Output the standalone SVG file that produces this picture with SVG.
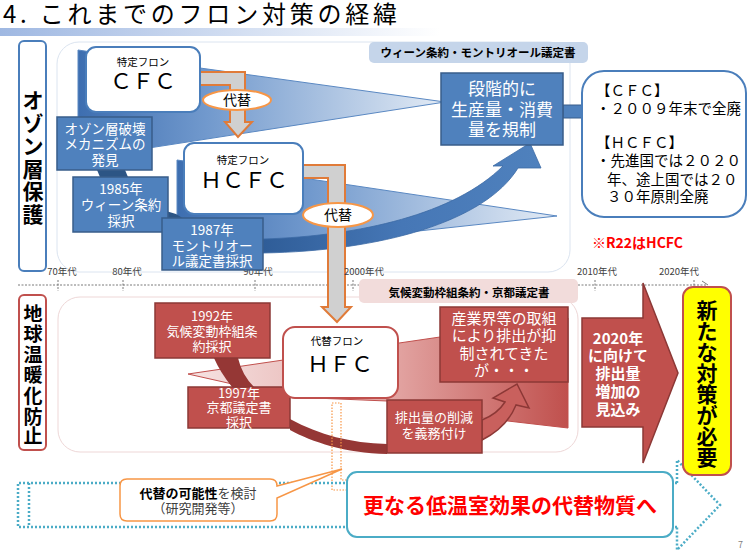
<svg xmlns="http://www.w3.org/2000/svg" width="753" height="557" viewBox="0 0 753 557">
<defs>
<style>
text{font-family:"Noto Sans CJK JP","Liberation Sans",sans-serif;}
.bbox{fill:#4f81bd;stroke:#385d8a;stroke-width:1.5;}
.rbox{fill:#c0504d;stroke:#8c3836;stroke-width:1.5;}
.wt{fill:#ffffff;text-anchor:middle;}
.bk{fill:#000000;text-anchor:middle;}
.tl{font-size:9.5px;fill:#404040;text-anchor:middle;}
.tick{stroke:#595959;stroke-width:0.8;stroke-dasharray:2 1.5;}
.orng{fill:#d0d0d0;stroke:#e07b39;stroke-width:2;}
.ell{fill:#ffffff;stroke:#f79646;stroke-width:2;}
</style>
<linearGradient id="gBar" x1="0" y1="0" x2="1" y2="0"><stop offset="0" stop-color="#9fb8e2"/><stop offset="1" stop-color="#ffffff"/></linearGradient>
<linearGradient id="gCFC" gradientUnits="userSpaceOnUse" x1="78" y1="0" x2="445" y2="0"><stop offset="0" stop-color="#3d6eb0"/><stop offset="0.35" stop-color="#7199cd"/><stop offset="1" stop-color="#e3ebf5"/></linearGradient>
<linearGradient id="gHCFC" gradientUnits="userSpaceOnUse" x1="177" y1="0" x2="557" y2="0"><stop offset="0" stop-color="#3d6eb0"/><stop offset="0.35" stop-color="#7199cd"/><stop offset="1" stop-color="#e3ebf5"/></linearGradient>
<linearGradient id="gArr" gradientUnits="userSpaceOnUse" x1="263" y1="0" x2="540" y2="0"><stop offset="0" stop-color="#2f5d98"/><stop offset="0.5" stop-color="#4677b6"/><stop offset="1" stop-color="#4f81bd"/></linearGradient>
<linearGradient id="gHFC" gradientUnits="userSpaceOnUse" x1="188" y1="0" x2="568" y2="0"><stop offset="0" stop-color="#f6e4e3"/><stop offset="0.55" stop-color="#e2a3a1"/><stop offset="1" stop-color="#c0504d"/></linearGradient>
</defs>

<!-- title -->
<text x="3" y="23" font-size="24" textLength="394" lengthAdjust="spacing" fill="#000">4. これまでのフロン対策の経緯</text>
<rect x="0" y="28" width="440" height="8" fill="url(#gBar)"/>

<!-- panels -->
<rect x="57" y="42" width="513" height="230" rx="22" fill="#ffffff" stroke="#dbe4f0" stroke-width="1"/>
<rect x="58" y="297" width="520" height="155" rx="22" fill="#ffffff" stroke="#eed7d7" stroke-width="1"/>

<!-- timeline axis -->
<g id="timeline-axis">
<line x1="18" y1="285" x2="707" y2="285" stroke="#595959" stroke-width="0.8" stroke-dasharray="2 1.5"/>
<path d="M702 281 L708 285" stroke="#595959" stroke-width="0.8" fill="none"/>
<line class="tick" x1="58" y1="280" x2="58" y2="291"/>
<line class="tick" x1="123" y1="280" x2="123" y2="291"/>
<line class="tick" x1="255" y1="280" x2="255" y2="291"/>
<line class="tick" x1="353" y1="280" x2="353" y2="291"/>
<line class="tick" x1="595" y1="280" x2="595" y2="291"/>
<line class="tick" x1="694" y1="280" x2="694" y2="291"/>
</g>

<!-- section labels -->
<g id="label-ozone">
<rect x="19" y="41" width="27" height="230" rx="5" fill="#fff" stroke="#4a7ebb" stroke-width="2"/>
<text class="bk" font-size="21" font-weight="bold"><tspan x="33" y="108">オ</tspan><tspan x="33" y="131">ゾ</tspan><tspan x="33" y="154">ン</tspan><tspan x="33" y="177">層</tspan><tspan x="33" y="199">保</tspan><tspan x="33" y="222">護</tspan></text>
</g>
<g id="label-warming">
<rect x="19" y="295" width="27" height="155" rx="5" fill="#fff" stroke="#c0504d" stroke-width="2"/>
<text class="bk" font-size="19" font-weight="bold"><tspan x="33" y="321">地</tspan><tspan x="33" y="341">球</tspan><tspan x="33" y="362">温</tspan><tspan x="33" y="382">暖</tspan><tspan x="33" y="403">化</tspan><tspan x="33" y="424">防</tspan><tspan x="33" y="443">止</tspan></text>
</g>

<g id="treaty-vienna">
<rect x="369" y="42" width="219" height="21" rx="5" fill="#c5d5ea"/>
<text class="bk" x="478" y="57" font-size="11.5" font-weight="bold">ウィーン条約・モントリオール議定書</text>
</g>
<g id="treaty-kyoto">
<rect x="359" y="279" width="219" height="24" rx="5" fill="#f2dcdb"/>
<text class="bk" x="469" y="297" font-size="11.5" font-weight="bold">気候変動枠組条約・京都議定書</text>
</g>

<!-- wedges -->
<g id="wedges">
<polygon points="78,50 200,68 445,102 78,159" fill="url(#gCFC)" stroke="#5a88c2" stroke-width="1"/>
<polygon points="177,160 303,178 557,216 400,233 263,246 177,228" fill="url(#gHCFC)" stroke="#5a88c2" stroke-width="1"/>
<polygon points="188,374 440,337 568,318 568,428 482,418 387,401 290,397" fill="url(#gHFC)" stroke="#c0504d" stroke-width="1"/>
</g>

<!-- connectors -->
<g id="connectors">
<polygon points="97,170 125,170 128,177 100,177" fill="#2c5585"/>
<polygon points="166,211 176,214 184,219 166,223" fill="#2c5585"/>
<path d="M263 239 C 360 236, 455 214, 503 166 L 493 166 L 530 143 L 541 168 L 518 168 C 485 222, 380 251, 263 253 Z" fill="url(#gArr)" stroke="#3b6aa5" stroke-width="0.8"/>
<polygon points="563,105 582,105 582,100 593,111 582,123 582,118 563,118" fill="#4f81bd" stroke="#385d8a" stroke-width="1"/>
<path d="M214 358 L238 358 Q 242 375 254 387 L 232 387 Q 220 372 214 358 Z" fill="#953735"/>
<path d="M290 419 C 320 435, 350 443, 387 444 L 387 454 C 345 453, 312 442, 290 430 Z" fill="#953735"/>
<path d="M482 420 C 492 416, 500 410, 505 402 L 493 398 L 517 384 L 529 408 L 516 405 C 510 420, 498 432, 482 440 Z" fill="#c9605d" stroke="#8c3836" stroke-width="1.5"/>
<polygon class="orng" points="200,72 245,72 245,122 252,122 238,137 225,122 230,122 230,85 200,85"/>
<polygon class="orng" points="303,165 345,165 345,307 351,307 337,322 322,307 328,307 328,178 303,178"/>
<ellipse class="ell" cx="237" cy="100" rx="34" ry="10"/>
<text class="bk" x="237" y="105" font-size="14">代替</text>
<ellipse class="ell" cx="338" cy="215" rx="35" ry="12"/>
<text class="bk" x="338" y="220" font-size="14">代替</text>
<path d="M347 490 H332 V403 H341 V480 H347" fill="none" stroke="#f79646" stroke-width="1.2" stroke-dasharray="1.5 1.5"/>
<path d="M677 483 L18 483 L18 527 L677 527 M677 483 L677 460 L720 505 L677 550 L677 527" fill="none" stroke="#4bacc6" stroke-width="2.5" stroke-dasharray="2 2"/>
<line x1="29" y1="483" x2="29" y2="527" stroke="#4bacc6" stroke-width="2.5" stroke-dasharray="2 2"/>
</g>

<!-- timeline labels -->
<g id="timeline-labels">
<text class="tl" x="62" y="275">70年代</text>
<text class="tl" x="127" y="275">80年代</text>
<text class="tl" x="258" y="275">90年代</text>
<text class="tl" x="364" y="275">2000年代</text>
<text class="tl" x="597" y="275">2010年代</text>
<text class="tl" x="679" y="275">2020年代</text>
</g>

<!-- top nodes -->
<g id="cfc">
<rect x="86" y="47" width="114" height="65" rx="10" fill="#fff" stroke="#4a7ebb" stroke-width="2"/>
<text class="bk" x="143" y="66" font-size="10.5">特定フロン</text>
<text class="bk" x="143" y="89" font-size="22">ＣＦＣ</text>
</g>
<g id="hcfc">
<rect x="184" y="143" width="119" height="71" rx="10" fill="#fff" stroke="#4a7ebb" stroke-width="2"/>
<text class="bk" x="243" y="164" font-size="10.5">特定フロン</text>
<text class="bk" x="244" y="188" font-size="22">ＨＣＦＣ</text>
</g>
<g id="ozone-discovery">
<rect class="bbox" x="57" y="117" width="95" height="53"/>
<text class="wt" font-size="13.5"><tspan x="105" y="134">オゾン層破壊</tspan><tspan x="105" y="149">メカニズムの</tspan><tspan x="105" y="165">発見</tspan></text>
</g>
<g id="vienna-1985">
<rect class="bbox" x="73" y="177" width="95" height="55"/>
<text class="wt" font-size="13.5"><tspan x="121" y="194">1985年</tspan><tspan x="121" y="210">ウィーン条約</tspan><tspan x="121" y="226">採択</tspan></text>
</g>
<g id="montreal-1987">
<rect class="bbox" x="162" y="218" width="101" height="52"/>
<text class="wt" font-size="13.5"><tspan x="212" y="235">1987年</tspan><tspan x="212" y="251">モントリオー</tspan><tspan x="212" y="266">ル議定書採択</tspan></text>
</g>
<g id="phaseout">
<rect class="bbox" x="441" y="73" width="122" height="72"/>
<text class="wt" font-size="17"><tspan x="502" y="95">段階的に</tspan><tspan x="502" y="116">生産量・消費</tspan><tspan x="502" y="136">量を規制</tspan></text>
</g>
<g id="schedule">
<rect x="582" y="71" width="164" height="146" rx="22" fill="#fff" stroke="#4a7ebb" stroke-width="2"/>
<text font-size="14.5" fill="#000"><tspan x="596" y="96">【ＣＦＣ】</tspan><tspan x="596" y="114">・２００９年末で全廃</tspan><tspan x="596" y="148">【ＨＣＦＣ】</tspan><tspan x="596" y="166">・先進国では２０２０</tspan><tspan x="607" y="185">年、途上国では２０</tspan><tspan x="607" y="202">３０年原則全廃</tspan></text>
</g>
<g id="note-r22">
<text x="592" y="248" font-size="14" font-weight="bold" fill="#ff0000">※R22はHCFC</text>
</g>

<!-- bottom nodes -->
<g id="unfccc-1992">
<rect class="rbox" x="155" y="303" width="115" height="55"/>
<text class="wt" font-size="13"><tspan x="212" y="321">1992年</tspan><tspan x="212" y="336">気候変動枠組条</tspan><tspan x="212" y="351">約採択</tspan></text>
</g>
<g id="kyoto-1997">
<rect class="rbox" x="188" y="387" width="102" height="41"/>
<text class="wt" font-size="13"><tspan x="239" y="398">1997年</tspan><tspan x="239" y="412">京都議定書</tspan><tspan x="239" y="427">採択</tspan></text>
</g>
<g id="hfc">
<rect x="283" y="327" width="115" height="71" rx="12" fill="#fff" stroke="#c0504d" stroke-width="2"/>
<text class="bk" x="337" y="345" font-size="10.5">代替フロン</text>
<text class="bk" x="340" y="372" font-size="22">ＨＦＣ</text>
</g>
<g id="reduction-duty">
<rect class="rbox" x="387" y="400" width="95" height="53"/>
<text class="wt" font-size="13"><tspan x="434" y="422">排出量の削減</tspan><tspan x="434" y="438">を義務付け</tspan></text>
</g>
<g id="industry-efforts">
<rect class="rbox" x="440" y="307" width="128" height="75"/>
<text class="wt" font-size="15"><tspan x="504" y="324">産業界等の取組</tspan><tspan x="504" y="341">により排出が抑</tspan><tspan x="504" y="359">制されてきた</tspan><tspan x="504" y="376">が・・・</tspan></text>
</g>
<g id="increase-2020">
<polygon class="rbox" points="582,318 643,318 643,283 678,373 643,463 643,427 582,427"/>
<text class="wt" font-size="15" font-weight="bold"><tspan x="618" y="344">2020年</tspan><tspan x="618" y="361">に向けて</tspan><tspan x="618" y="379">排出量</tspan><tspan x="618" y="397">増加の</tspan><tspan x="618" y="415">見込み</tspan></text>
</g>
<g id="new-measures">
<rect x="683" y="287" width="48" height="188" rx="10" fill="#ffff00" stroke="#c0504d" stroke-width="2"/>
<text class="bk" font-size="21" font-weight="bold"><tspan x="707" y="318">新</tspan><tspan x="707" y="339">た</tspan><tspan x="707" y="360">な</tspan><tspan x="707" y="381">対</tspan><tspan x="707" y="402">策</tspan><tspan x="707" y="423">が</tspan><tspan x="707" y="444">必</tspan><tspan x="707" y="465">要</tspan></text>
</g>
<g id="research">
<path d="M127 479 H270 Q277 479 277 486 L342 469 L277 498 V514 Q277 521 270 521 H127 Q120 521 120 514 V486 Q120 479 127 479 Z" fill="#fff" stroke="#f79646" stroke-width="1.5"/>
<text class="bk" x="198" y="498" font-size="13"><tspan font-weight="bold">代替の可能性</tspan><tspan fill="#404040">を検討</tspan></text>
<text x="198" y="513" font-size="13" fill="#404040" text-anchor="middle">（研究開発等）</text>
</g>
<g id="low-gwp">
<rect x="347" y="472" width="326" height="65" rx="10" fill="#fff" stroke="#4bacc6" stroke-width="2"/>
<text x="510" y="513" font-size="21" font-weight="bold" fill="#ff0000" text-anchor="middle">更なる低温室効果の代替物質へ</text>
</g>
<text x="738" y="548" font-size="9" fill="#7f7f7f">7</text>
</svg>
